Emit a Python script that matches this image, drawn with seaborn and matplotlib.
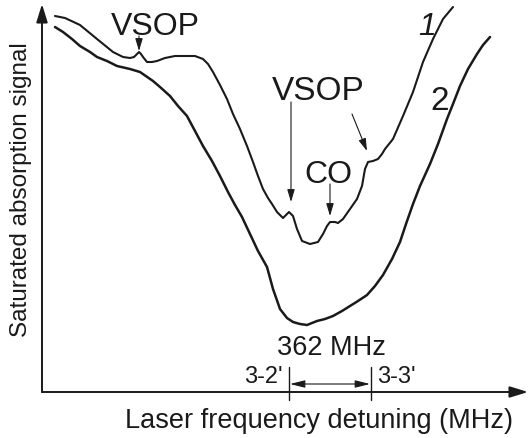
import matplotlib
matplotlib.use("Agg")
import matplotlib.pyplot as plt
import seaborn as sns
import pandas as pd

# Detuning (arbitrary, pixel-like units) and signal (arbitrary units, height above axis)
curve1_x = [55, 65, 80, 97, 113, 123, 130, 134, 137, 139, 141, 143, 147, 152, 157, 165, 175, 185,
            195, 203, 208, 213, 220, 227, 233, 240, 247, 253, 258, 263, 268, 272, 277, 283, 286,
            289, 293, 297, 302, 310, 318, 323, 327, 330, 335, 338, 343, 350, 357, 362, 365, 368,
            373, 378, 382, 385, 393, 403, 413, 423, 433, 443, 453]
curve1_y = [376, 374, 367, 353, 340, 335, 334, 335, 338, 340, 338, 335, 330, 330, 331, 334, 336, 336,
            336, 333, 328, 320, 307, 293, 278, 263, 246, 230, 216, 203, 194, 188, 180, 174, 177,
            180, 176, 163, 151, 148, 150, 158, 166, 170, 170, 169, 173, 183, 193, 206, 223, 230,
            231, 233, 238, 243, 253, 276, 300, 330, 353, 373, 385]

curve2_x = [55, 63, 72, 80, 90, 97, 107, 117, 130, 140, 153, 160, 170, 178, 187, 195, 203, 212,
            220, 228, 235, 242, 250, 258, 267, 273, 280, 287, 293, 300, 307, 312, 317, 325, 333,
            342, 350, 358, 367, 375, 383, 392, 400, 406, 413, 420, 430, 438, 447, 453, 460, 468,
            477, 483, 490]
curve2_y = [365, 360, 353, 346, 340, 335, 331, 326, 323, 320, 311, 305, 296, 286, 276, 261, 246, 231,
            216, 200, 187, 175, 158, 141, 125, 103, 83, 74, 70, 68, 67, 69, 71, 73, 76,
            81, 86, 91, 97, 106, 117, 133, 150, 168, 188, 206, 228, 248, 273, 288, 306, 323,
            338, 347, 355]

sns.set_theme(style="white")
plt.rcParams["font.family"] = ["Liberation Sans", "DejaVu Sans"]

INK = "#1a1a1a"

fig = plt.figure(figsize=(5.29, 4.39), dpi=100)
ax = fig.add_axes([0, 0, 1, 1])
ax.set_xlim(0, 529)
ax.set_ylim(-46, 393)
ax.axis("off")

df1 = pd.DataFrame({"x": curve1_x, "y": curve1_y})
df2 = pd.DataFrame({"x": curve2_x, "y": curve2_y})
sns.lineplot(data=df1, x="x", y="y", ax=ax, color=INK, lw=1.5, estimator=None, sort=False)
sns.lineplot(data=df2, x="x", y="y", ax=ax, color=INK, lw=1.8, estimator=None, sort=False)

# axes with arrows
big = dict(arrowstyle="-|>,head_length=0.55,head_width=0.17", color=INK, lw=1.4,
           shrinkA=0, shrinkB=0, mutation_scale=20)
ax.annotate("", xy=(42, 388), xytext=(42, 0), arrowprops=big)
ax.annotate("", xy=(528, 0), xytext=(42, 0), arrowprops=big)

small = dict(arrowstyle="-|>,head_length=0.5,head_width=0.15", color=INK, lw=0.8,
             shrinkA=0, shrinkB=0, mutation_scale=15)
ax.annotate("", xy=(139, 341), xytext=(139, 356), arrowprops=small)
ax.annotate("", xy=(291, 190), xytext=(291, 290), arrowprops=small)
ax.annotate("", xy=(367, 241), xytext=(352, 278), arrowprops=small)
ax.annotate("", xy=(330, 176), xytext=(330, 208), arrowprops=small)

# 362 MHz marker
for xv in (289, 371):
    ax.plot([xv, xv], [25, -8], color=INK, lw=1.0)
ax.annotate("", xy=(290, 8), xytext=(370, 8),
            arrowprops=dict(arrowstyle="<|-|>,head_length=0.6,head_width=0.15", color=INK,
                            lw=0.8, shrinkA=0, shrinkB=0, mutation_scale=15))

tk = dict(color=INK, va="baseline")
ax.text(155, 358, "VSOP", fontsize=23, ha="center", **tk)
ax.text(318, 293, "VSOP", fontsize=24, ha="center", **tk)
ax.text(328, 210, "CO", fontsize=23, ha="center", **tk)
ax.text(427, 358, "1", fontsize=23, ha="center", style="italic", **tk)
ax.text(440, 283, "2", fontsize=24, ha="center", **tk)
ax.text(331, 38, "362 MHz", fontsize=19.5, ha="center", **tk)
ax.text(283, 10, "3-2'", fontsize=17, ha="right", **tk)
ax.text(377, 10, "3-3'", fontsize=17, ha="left", **tk)
ax.text(319, -35, "Laser frequency detuning (MHz)", fontsize=19.5, ha="center", **tk)
ax.text(27, 203, "Saturated absorption signal", fontsize=17.5, ha="center", rotation=90,
        rotation_mode="anchor", **tk)

fig.savefig("out.png", dpi=100, facecolor="white")
